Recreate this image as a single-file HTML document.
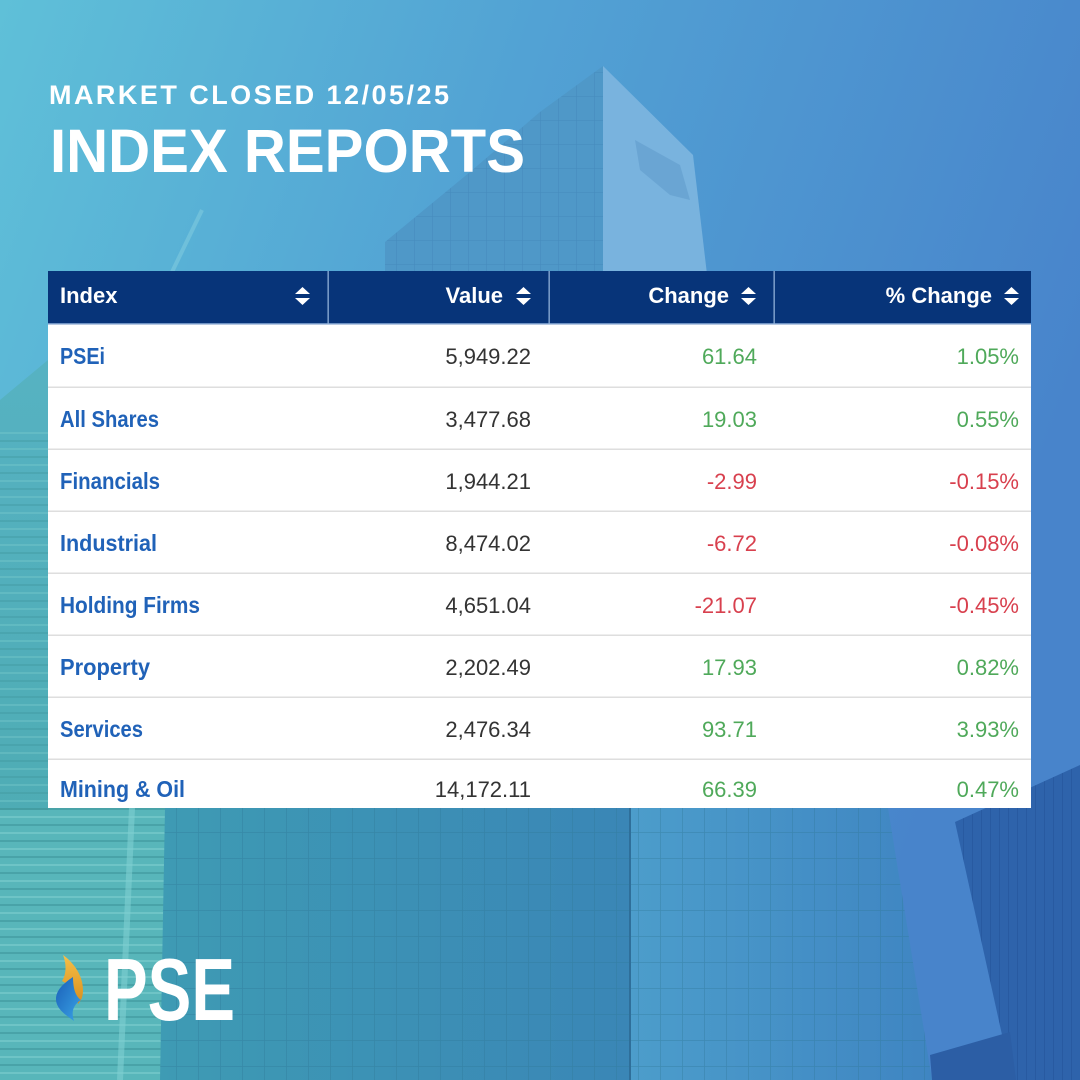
<!DOCTYPE html>
<html>
<head>
<meta charset="utf-8">
<style>
  html,body{margin:0;padding:0;width:1080px;height:1080px;overflow:hidden;background:#4f9fd2;}
  svg{display:block;}
  text{font-family:"Liberation Sans",Arial,sans-serif;}
</style>
</head>
<body>
<svg width="1080" height="1080" viewBox="0 0 1080 1080" xmlns="http://www.w3.org/2000/svg">
  <defs>
    <linearGradient id="sky" x1="0" y1="0" x2="1" y2="0.35">
      <stop offset="0" stop-color="#5fc0d8"/>
      <stop offset="0.45" stop-color="#52a2d4"/>
      <stop offset="1" stop-color="#4884cb"/>
    </linearGradient>
    <linearGradient id="leftb" x1="0" y1="0" x2="0" y2="1">
      <stop offset="0" stop-color="#56b2c2"/>
      <stop offset="1" stop-color="#4aa9ad"/>
    </linearGradient>
    <linearGradient id="midb" x1="0" y1="0" x2="1" y2="0">
      <stop offset="0" stop-color="#3e9bb4"/>
      <stop offset="1" stop-color="#3a86b6"/>
    </linearGradient>
    <linearGradient id="rface" x1="0" y1="0" x2="1" y2="0">
      <stop offset="0" stop-color="#4c9dcb"/>
      <stop offset="1" stop-color="#3f85c2"/>
    </linearGradient>
    <pattern id="grid" width="22" height="26" patternUnits="userSpaceOnUse">
      <path d="M0 0 H22 M0 0 V26" stroke="#2f7796" stroke-width="1.5" fill="none" opacity="0.45"/>
    </pattern>
    <pattern id="grid2" width="18" height="24" patternUnits="userSpaceOnUse">
      <path d="M0 0 H18 M0 0 V24" stroke="#2f6fa5" stroke-width="1.3" fill="none" opacity="0.45"/>
    </pattern>
    <pattern id="stripes" width="30" height="16" patternUnits="userSpaceOnUse">
      <path d="M0 0 H30" stroke="#7fd0cf" stroke-width="4" opacity="0.55"/>
      <path d="M0 9 H30" stroke="#3a8f96" stroke-width="2" opacity="0.5"/>
    </pattern>
    <pattern id="rgrid" width="9" height="30" patternUnits="userSpaceOnUse">
      <path d="M0 0 V30" stroke="#1f4f95" stroke-width="1.5" opacity="0.6"/>
    </pattern>
    <linearGradient id="gold" x1="0" y1="0" x2="0" y2="1">
      <stop offset="0" stop-color="#f6c04a"/>
      <stop offset="1" stop-color="#d98f1c"/>
    </linearGradient>
    <linearGradient id="blue" x1="0" y1="0" x2="1" y2="1">
      <stop offset="0" stop-color="#1a5fb8"/>
      <stop offset="1" stop-color="#3aa4e6"/>
    </linearGradient>
  </defs>

  <!-- sky -->
  <rect x="0" y="0" width="1080" height="1080" fill="url(#sky)"/>

  <!-- top tower -->
  <polygon points="603,66 540,112 470,172 385,242 385,300 603,300" fill="#4f98c8"/>
  <polygon points="603,66 540,112 470,172 385,242 385,300 603,300" fill="url(#grid2)" opacity="0.6"/>
  <polygon points="603,66 693,155 710,300 603,300" fill="#79b3de"/>
  <path d="M635 140 l45 25 l10 35 l-20 -5 l-30 -25 z" fill="#4f8dc0" opacity="0.35"/>
  <!-- crane -->
  <line x1="202" y1="210" x2="172" y2="272" stroke="#86cfe0" stroke-width="4" opacity="0.5"/>

  <!-- left teal building -->
  <polygon points="0,400 48,360 48,1080 0,1080" fill="url(#leftb)"/>
  <polygon points="0,808 170,808 165,1080 0,1080" fill="#58b6ba"/>
  <rect x="0" y="808" width="168" height="272" fill="url(#stripes)"/>
  <rect x="0" y="430" width="48" height="380" fill="url(#stripes)" opacity="0.6"/>
  <line x1="132" y1="808" x2="120" y2="1080" stroke="#7fd0d2" stroke-width="6" opacity="0.6"/>

  <!-- main bottom building -->
  <polygon points="165,808 630,808 630,1080 160,1080" fill="url(#midb)"/>
  <polygon points="630,808 888,808 932,1080 630,1080" fill="url(#rface)"/>
  <polygon points="165,808 888,808 932,1080 160,1080" fill="url(#grid)"/>
  <line x1="630" y1="808" x2="630" y2="1080" stroke="#2f6f9a" stroke-width="2"/>

  <!-- right dark building -->
  <polygon points="955,822 1080,765 1080,1080 1012,1080" fill="#2e63ab"/>
  <polygon points="955,822 1080,765 1080,1080 1012,1080" fill="url(#rgrid)"/>
  <polygon points="930,1055 1010,1032 1016,1080 932,1080" fill="#2c5ea5"/>

  <!-- Titles -->
  <text x="49" y="104" font-size="27" font-weight="bold" fill="#ffffff" textLength="400" lengthAdjust="spacing">MARKET CLOSED 12/05/25</text>
  <text x="50" y="172" font-size="61" font-weight="bold" fill="#ffffff" textLength="475" lengthAdjust="spacingAndGlyphs">INDEX REPORTS</text>

  <!-- Table -->
  <rect x="48" y="271" width="983" height="53" fill="#073479"/>
  <rect x="48" y="323" width="983" height="1.5" fill="#6f93c4"/>
  <rect x="327.5" y="271" width="1.3" height="53" fill="#8fb0d8"/>
  <rect x="548.5" y="271" width="1.3" height="53" fill="#8fb0d8"/>
  <rect x="773.5" y="271" width="1.3" height="53" fill="#8fb0d8"/>
  <rect x="48" y="324.5" width="983" height="483.5" fill="#ffffff"/>

  <g fill="#dedede">
    <rect x="48" y="386.5" width="983" height="1.5"/>
    <rect x="48" y="448.5" width="983" height="1.5"/>
    <rect x="48" y="510.5" width="983" height="1.5"/>
    <rect x="48" y="572.5" width="983" height="1.5"/>
    <rect x="48" y="634.5" width="983" height="1.5"/>
    <rect x="48" y="696.5" width="983" height="1.5"/>
    <rect x="48" y="758.5" width="983" height="1.5"/>
  </g>

  <!-- header text -->
  <g font-size="22" font-weight="bold" fill="#ffffff">
    <text x="60" y="303">Index</text>
    <text x="503" y="303" text-anchor="end">Value</text>
    <text x="729" y="303" text-anchor="end">Change</text>
    <text x="992" y="303" text-anchor="end">% Change</text>
  </g>
  <!-- sort icons -->
  <g fill="#ffffff">
    <polygon points="295,294 302.5,287 310,294"/><polygon points="295,298 302.5,305 310,298"/>
    <polygon points="516,294 523.5,287 531,294"/><polygon points="516,298 523.5,305 531,298"/>
    <polygon points="741,294 748.5,287 756,294"/><polygon points="741,298 748.5,305 756,298"/>
    <polygon points="1004,294 1011.5,287 1019,294"/><polygon points="1004,298 1011.5,305 1019,298"/>
  </g>

  <!-- names -->
  <g font-size="23" font-weight="bold" fill="#2062b8">
    <text x="60" y="364" textLength="45" lengthAdjust="spacingAndGlyphs">PSEi</text>
    <text x="60" y="427" textLength="99" lengthAdjust="spacingAndGlyphs">All Shares</text>
    <text x="60" y="489" textLength="100" lengthAdjust="spacingAndGlyphs">Financials</text>
    <text x="60" y="551" textLength="97" lengthAdjust="spacingAndGlyphs">Industrial</text>
    <text x="60" y="613" textLength="140" lengthAdjust="spacingAndGlyphs">Holding Firms</text>
    <text x="60" y="675" textLength="90" lengthAdjust="spacingAndGlyphs">Property</text>
    <text x="60" y="737" textLength="83" lengthAdjust="spacingAndGlyphs">Services</text>
    <text x="60" y="797" textLength="125" lengthAdjust="spacingAndGlyphs">Mining &amp; Oil</text>
  </g>
  <!-- values -->
  <g font-size="22" fill="#333333" text-anchor="end">
    <text x="531" y="364">5,949.22</text>
    <text x="531" y="427">3,477.68</text>
    <text x="531" y="489">1,944.21</text>
    <text x="531" y="551">8,474.02</text>
    <text x="531" y="613">4,651.04</text>
    <text x="531" y="675">2,202.49</text>
    <text x="531" y="737">2,476.34</text>
    <text x="531" y="797">14,172.11</text>
  </g>
  <!-- change -->
  <g font-size="22" text-anchor="end">
    <text x="757" y="364" fill="#4fa95a">61.64</text>
    <text x="757" y="427" fill="#4fa95a">19.03</text>
    <text x="757" y="489" fill="#d8404e">-2.99</text>
    <text x="757" y="551" fill="#d8404e">-6.72</text>
    <text x="757" y="613" fill="#d8404e">-21.07</text>
    <text x="757" y="675" fill="#4fa95a">17.93</text>
    <text x="757" y="737" fill="#4fa95a">93.71</text>
    <text x="757" y="797" fill="#4fa95a">66.39</text>
  </g>
  <!-- pct -->
  <g font-size="22" text-anchor="end">
    <text x="1019" y="364" fill="#4fa95a">1.05%</text>
    <text x="1019" y="427" fill="#4fa95a">0.55%</text>
    <text x="1019" y="489" fill="#d8404e">-0.15%</text>
    <text x="1019" y="551" fill="#d8404e">-0.08%</text>
    <text x="1019" y="613" fill="#d8404e">-0.45%</text>
    <text x="1019" y="675" fill="#4fa95a">0.82%</text>
    <text x="1019" y="737" fill="#4fa95a">3.93%</text>
    <text x="1019" y="797" fill="#4fa95a">0.47%</text>
  </g>

  <!-- PSE logo -->
  <path d="M63 955 C73 962 83 975 83 990 C83 997 81 1001 78 1004 C77 994 71 986 62 981 C66 975 67 965 63 955 Z" fill="url(#gold)"/>
  <path d="M73 977 C64 983 56 990 56 999 C56 1009 66 1015 74 1021 C71 1012 73 1005 81 1000 C75 996 73 987 73 977 Z" fill="url(#blue)"/>
  <text x="104" y="1020" font-size="88" font-weight="bold" fill="#ffffff" textLength="131" lengthAdjust="spacingAndGlyphs">PSE</text>
</svg>
</body>
</html>
